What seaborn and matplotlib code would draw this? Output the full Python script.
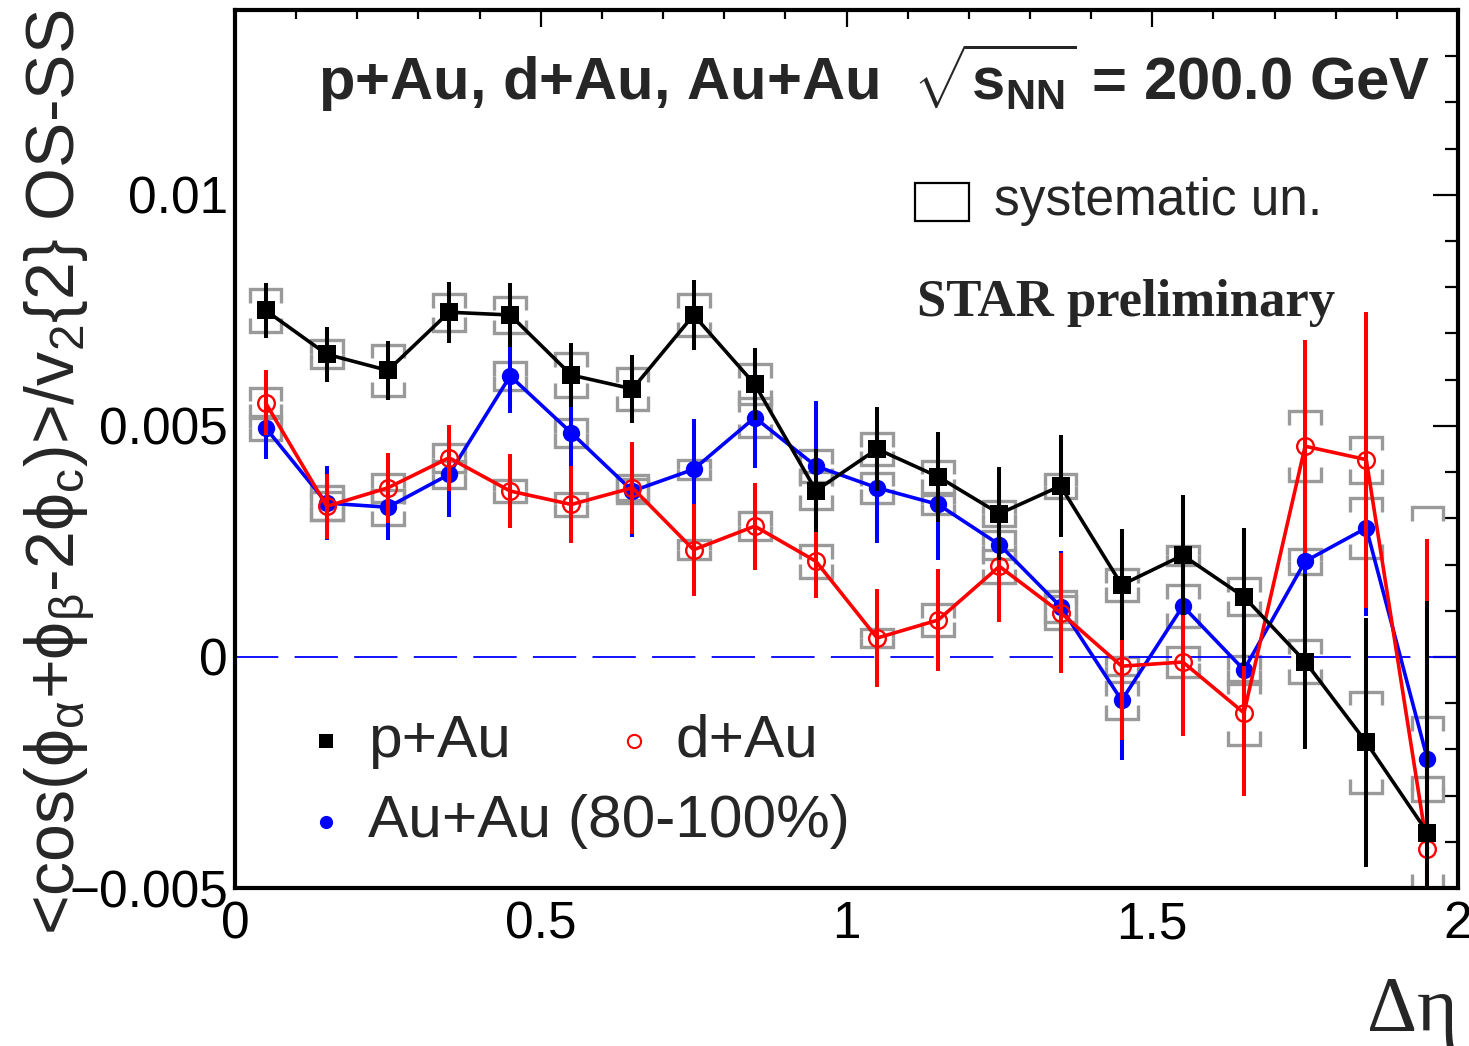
import numpy as np
import pandas as pd
import matplotlib
matplotlib.use("Agg")
import matplotlib.pyplot as plt
import seaborn as sns
from matplotlib.collections import LineCollection
from matplotlib.ticker import MultipleLocator, FixedLocator, FixedFormatter

# ---------------- data ----------------
deta = [0.05, 0.15, 0.25, 0.35, 0.45, 0.55, 0.65, 0.75, 0.85, 0.95,
        1.05, 1.15, 1.25, 1.35, 1.45, 1.55, 1.65, 1.75, 1.85, 1.95]

pau = [0.0075, 0.00655, 0.0062, 0.00746, 0.0074, 0.0061, 0.0058, 0.0074, 0.0059, 0.0036,
       0.0045, 0.0039, 0.0031, 0.0037, 0.00156, 0.0022, 0.0013, -0.0001, -0.00185, -0.0038]
pau_stat = [0.0006, 0.0006, 0.00064, 0.00066, 0.0007, 0.0007, 0.00073, 0.00075, 0.00078, 0.0009,
            0.0009, 0.00097, 0.001, 0.0011, 0.0012, 0.0013, 0.0015, 0.0019, 0.0027, 0.005]
pau_sys = [0.00047, 0.0003, 0.00056, 0.0004, 0.0004, 0.00047, 0.00045, 0.00046, 0.00043, 0.0004,
           0.00035, 0.00035, 0.00027, 0.00025, 0.00035, 0.0002, 0.0004, 0.00046, 0.0011, 0.0012]

dau = [0.0055, 0.00326, 0.00366, 0.00431, 0.00359, 0.0033, 0.00366, 0.00232, 0.00283, 0.00207,
       0.00041, 0.0008, 0.00196, 0.00096, -0.0002, -0.00011, -0.00121, 0.00456, 0.00427, -0.00415]
dau_stat = [0.0007, 0.0007, 0.00076, 0.00072, 0.0008, 0.00084, 0.001, 0.001, 0.00094, 0.0008,
            0.00105, 0.0011, 0.0012, 0.0013, 0.0016, 0.0016, 0.0018, 0.0023, 0.0032, 0.0067]
dau_sys = [0.00033, 0.0003, 0.0003, 0.0003, 0.00024, 0.00025, 0.00027, 0.0002, 0.0003, 0.00036,
           0.0002, 0.00034, 0.00035, 0.00036, 0.0002, 0.00033, 0.0007, 0.00076, 0.0005, 0.0074]

auau = [0.00496, 0.00333, 0.00324, 0.00395, 0.00608, 0.00485, 0.00359, 0.00406, 0.00518, 0.00413,
        0.00366, 0.0033, 0.00243, 0.00109, -0.00094, 0.0011, -0.00028, 0.00207, 0.00279, -0.00221]
auau_stat = [0.00067, 0.0008, 0.0007, 0.00093, 0.0008, 0.0009, 0.001, 0.0011, 0.0011, 0.0014,
             0.0012, 0.0012, 0.0012, 0.0012, 0.0013, 0.0013, 0.0014, 0.0017, 0.0019, 0.002]
auau_sys = [0.00026, 0.00036, 0.00038, 0.0003, 0.0003, 0.0003, 0.00025, 0.0002, 0.00043, 0.00034,
            0.00033, 0.0002, 0.0003, 0.00034, 0.0004, 0.00045, 0.0003, 0.00027, 0.00065, 0.0009]

xticks = [0, 0.5, 1, 1.5, 2]
xticklabels = ["0", "0.5", "1", "1.5", "2"]
yticks = [-0.005, 0, 0.005, 0.01]
yticklabels = ["\u22120.005", "0", "0.005", "0.01"]

# ---------------- style ----------------
sns.set_theme(style="white")
plt.rcParams["font.family"] = ["Liberation Sans", "DejaVu Sans"]
plt.rcParams["mathtext.fontset"] = "custom"
plt.rcParams["mathtext.rm"] = "Liberation Sans"
plt.rcParams["mathtext.it"] = "Liberation Sans:italic"
plt.rcParams["mathtext.bf"] = "Liberation Sans:bold"
plt.rcParams["mathtext.sf"] = "Liberation Sans"

W, H = 1469, 1046
fig = plt.figure(figsize=(W / 100, H / 100), dpi=100)
fig.patch.set_facecolor("white")
ax = fig.add_axes([235 / W, 1 - 888 / H, (1458 - 235) / W, (888 - 10) / H])
ax.set_facecolor("white")

GRAY = "#9a9a9a"
half_w = 0.026
tick_len = 0.0003


def sys_boxes(x, y, s):
    segs = []
    for xi, yi, si in zip(x, y, s):
        t = min(tick_len, si)
        top = yi + si
        bot = yi - si
        segs.append([(xi - half_w, top - t), (xi - half_w, top), (xi + half_w, top), (xi + half_w, top - t)])
        segs.append([(xi - half_w, bot + t), (xi - half_w, bot), (xi + half_w, bot), (xi + half_w, bot + t)])
    lc = LineCollection(segs, colors=GRAY, linewidths=2.4, zorder=1, capstyle="butt", joinstyle="miter")
    ax.add_collection(lc)


sys_boxes(deta, auau, auau_sys)
sys_boxes(deta, dau, dau_sys)
sys_boxes(deta, pau, pau_sys)

# zero line
ax.axhline(0, color="blue", lw=1.3, ls=(0, (24, 9)), zorder=2)

series = [
    ("Au+Au (80-100%)", auau, auau_stat, "blue", dict(marker="o", markersize=12.5, markerfacecolor="blue",
                                                       markeredgecolor="blue", markeredgewidth=0), 3),
    ("d+Au", dau, dau_stat, "red", dict(marker="o", markersize=12, markerfacecolor="none",
                                         markeredgecolor="red", markeredgewidth=1.7), 4),
    ("p+Au", pau, pau_stat, "black", dict(marker="s", markersize=12.5, markerfacecolor="black",
                                           markeredgecolor="black", markeredgewidth=0), 5),
]

for name, vals, stat, col, mk, z in series:
    df = pd.DataFrame({"deta": deta, "val": vals})
    ax.errorbar(deta, vals, yerr=stat, fmt="none", ecolor=col, elinewidth=2.9, capsize=0, zorder=z)
    sns.lineplot(data=df, x="deta", y="val", color=col, lw=2.6, ax=ax, zorder=z, legend=False, **mk)

ax.set_xlim(0, 2)
ax.set_ylim(-0.005, 0.014)
ax.set_xlabel("")
ax.set_ylabel("")

ax.xaxis.set_major_locator(FixedLocator(xticks))
ax.xaxis.set_major_formatter(FixedFormatter(xticklabels))
ax.xaxis.set_minor_locator(MultipleLocator(0.1))
ax.yaxis.set_major_locator(FixedLocator(yticks))
ax.yaxis.set_major_formatter(FixedFormatter(yticklabels))
ax.yaxis.set_minor_locator(MultipleLocator(0.001))

ax.tick_params(which="both", direction="in", top=True, right=True, colors="black", width=1.6)
ax.tick_params(axis="x", which="major", length=12, labelsize=37, pad=9)
ax.tick_params(axis="x", which="minor", length=6.5)
ax.tick_params(axis="y", which="major", length=18, labelsize=37, pad=5)
ax.tick_params(axis="y", which="minor", length=9.5)
for sp in ax.spines.values():
    sp.set_color("black")
    sp.set_linewidth(3)
    sp.set_visible(True)

# title
ax.text(0.068, 0.897, r"p+Au, d+Au, Au+Au  $\sqrt{\mathbf{s}_{\mathbf{NN}}}$ = 200.0 GeV",
        transform=ax.transAxes, fontsize=43, fontweight="bold", ha="left", va="baseline")

# systematic legend
ax.add_patch(plt.Rectangle((0.556, 0.760), 0.044, 0.043, transform=ax.transAxes,
                           fill=False, edgecolor="black", lw=1.6, zorder=6))
ax.text(0.621, 0.782, "systematic un.", transform=ax.transAxes, fontsize=37,
        ha="left", va="center")

ax.text(0.558, 0.6515, "STAR preliminary", transform=ax.transAxes, fontsize=38,
        fontweight="bold", family=["Liberation Serif", "DejaVu Serif"], ha="left", va="baseline")

# data legend
leg_items = [
    (0.0744, 0.1674, "p+Au", dict(marker="s", markersize=9.5, color="black", markeredgewidth=0)),
    (0.326, 0.1674, "d+Au", dict(marker="o", markersize=9.5, markerfacecolor="none", markeredgecolor="red",
                                  markeredgewidth=1.5)),
    (0.0744, 0.0752, "Au+Au (80-100%)", dict(marker="o", markersize=9.5, color="blue", markeredgewidth=0)),
]
for lx, ly, lab, mk in leg_items:
    ax.plot([lx], [ly], transform=ax.transAxes, linestyle="none", clip_on=False, zorder=7, **mk)
    ax.text(lx + 0.0344, ly, lab, transform=ax.transAxes, fontsize=43.5, ha="left", va="center", zorder=7)

# axis titles
fig.text(1458 / W, 1 - 1030 / H, "\u0394\u03b7", fontsize=56, family=["Liberation Serif", "DejaVu Serif"],
         ha="right", va="baseline")
fig.text(60 / W, 1 - 472 / H,
         r"<cos($\mathrm{\phi}_{\mathrm{\alpha}}$+$\mathrm{\phi}_{\mathrm{\beta}}$-2$\mathrm{\phi}_{\mathrm{c}}$)>/v$_{2}${2} OS-SS",
         rotation=90, fontsize=49, ha="center", va="center")

fig.savefig("out.png", dpi=100, facecolor="white")
